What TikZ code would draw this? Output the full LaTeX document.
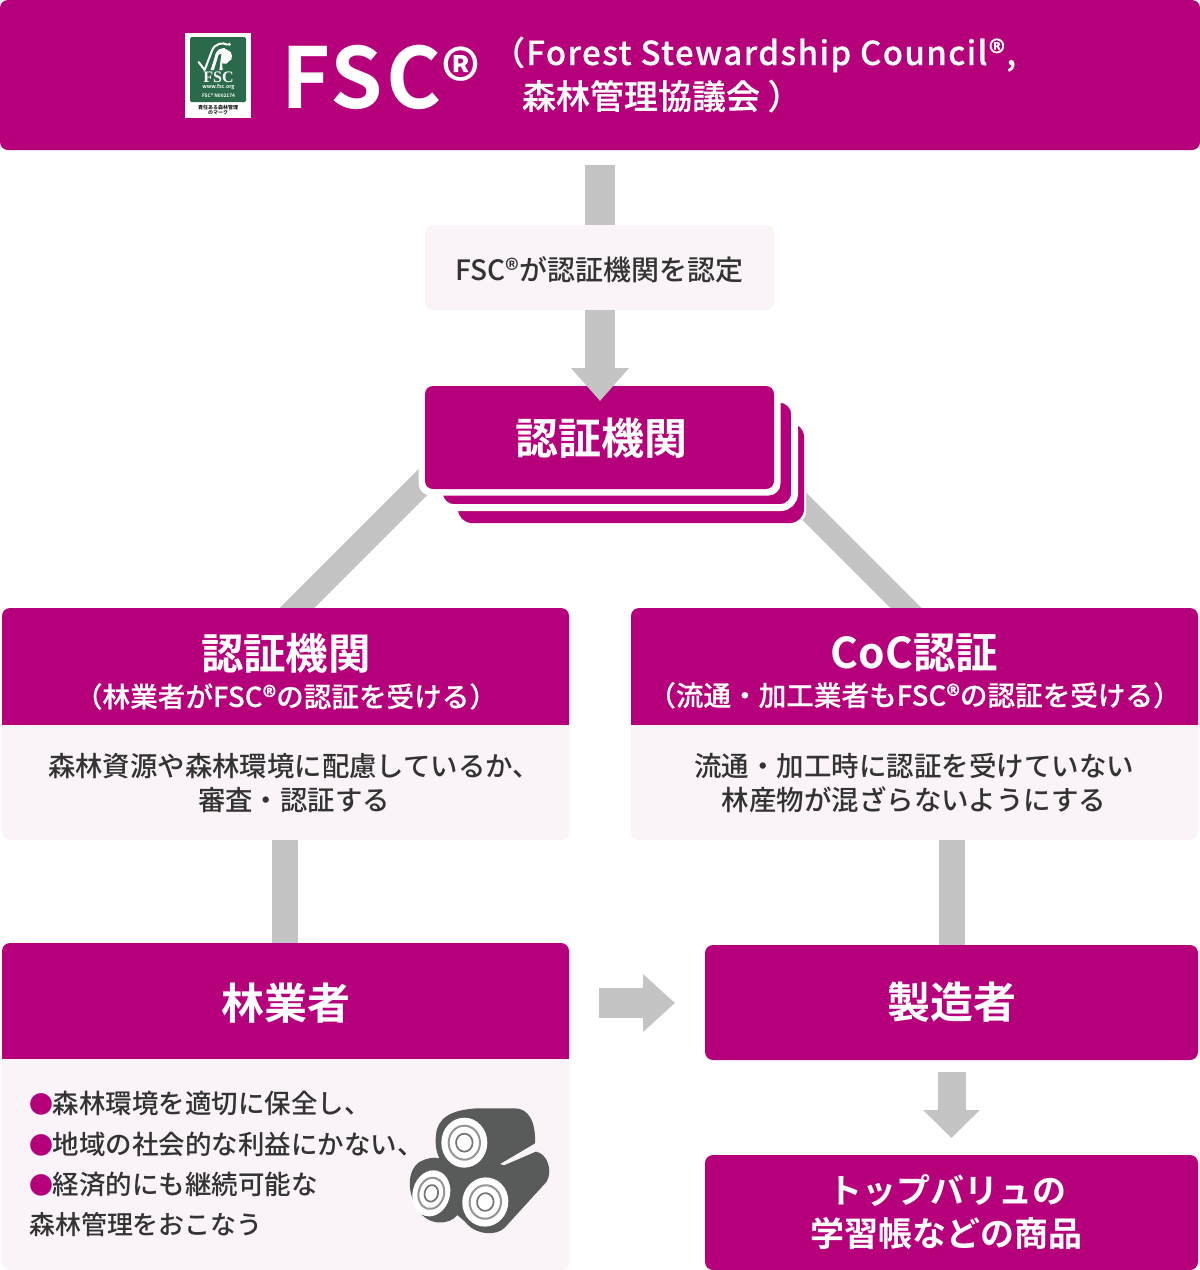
\documentclass[tikz,border=0pt]{standalone}
\usepackage{fontspec}
\setmainfont{Noto Sans CJK JP Medium}[BoldFont={Noto Sans CJK JP Bold}]
\newfontfamily\medfont{Noto Sans CJK JP Medium}
\newfontfamily\serifbold{Liberation Serif}
\usetikzlibrary{arrows.meta,backgrounds}
\definecolor{mag}{HTML}{B6007B}
\definecolor{pale}{HTML}{FAF4F9}
\definecolor{conn}{HTML}{C4C4C4}
\definecolor{logs}{HTML}{595B5A}
\definecolor{fscgreen}{HTML}{2A6A4A}
\definecolor{ink}{HTML}{333333}
\newcommand{\fs}[1]{\fontsize{#1}{#1}\selectfont}
\newcommand{\headshape}[4]{\fill[mag] (#1,#4) [rounded corners=8pt] -- (#1,#2) -- (#3,#2) [sharp corners] -- (#3,#4) -- cycle;}
\newcommand{\bodyshape}[4]{\fill[pale] (#1,#2) [rounded corners=8pt] -- (#1,#4) -- (#3,#4) [sharp corners] -- (#3,#2) -- cycle;}
\newcommand{\bl}{\makebox[24pt][l]{\textcolor{mag}{\fs{24}●}}}
\tikzset{
 txt/.style={inner sep=0pt,outer sep=0pt,align=center,text=ink},
 wtxt/.style={inner sep=0pt,outer sep=0pt,align=center,text=white,font=\bfseries},
 cardframe/.style={inner sep=0pt,outer sep=0pt,minimum width=567pt},
 solidbox/.style={fill=mag,rounded corners=8pt,text=white,font=\bfseries,inner sep=0pt,outer sep=0pt,align=center},
 palebox/.style={fill=pale,rounded corners=8pt,text=ink,inner sep=0pt,outer sep=0pt,align=center},
 bar/.style={draw=conn,line width=#1},
 bararrow/.style={draw=conn,line width=#1},
 bul/.style={inner sep=0pt,outer sep=0pt,anchor=base west,text=ink},
}
\begin{document}
\begin{tikzpicture}[x=1pt,y=-1pt]
\useasboundingbox (0,0) rectangle (1200,1270);

% ---- banner
\node[solidbox,minimum width=1200pt,minimum height=150pt] (banner) at (600,75) {};
\node[fill=white,inner sep=0pt,outer sep=0pt,minimum width=66pt,minimum height=85pt] (logobg) at (218,75.5) {};
\node[fill=fscgreen,rounded corners=1.5pt,inner sep=0pt,minimum width=56pt,minimum height=65pt] (logogreen) at (218,69.5) {};
\begin{scope}[shift={(170,20)},x=0.3333pt,y=-0.3333pt]
 \draw[white,line width=2pt,line join=round,line cap=round] (86,126) -- (104,150) -- (126,92) .. controls (134,70) and (160,66) .. (172,74);
 \fill[white] (122,150) -- (134,112) .. controls (136,88) and (162,76) .. (172,90) .. controls (190,92) and (190,124) .. (176,124) .. controls (172,134) and (160,132) .. (156,128) -- (158,150) -- cycle;
 \fill[fscgreen] (132,150) -- (142,118) .. controls (144,104) and (150,98) .. (154,102) -- (148,150) -- cycle;
 \fill[white] (178,73) circle (5);
\end{scope}
\node[inner sep=0pt,text=white,font=\serifbold\bfseries\fs{16}] (logofsc) at (218.5,77.5) {FSC};
\node[inner sep=0pt,text=white,font=\bfseries\fs{5.2}] (logoweb) at (218.5,87) {www.fsc.org};
\node[inner sep=0pt,text=white,font=\bfseries\fs{4.8}] (logoid) at (218.5,95.5) {FSC® N002174};
\node[inner sep=0pt,text=black,align=center,font=\bfseries\fs{5}] (logomark) at (218,110) {責任ある森林管理\\[0.5pt]のマーク};
\node[wtxt,anchor=base west,font=\bfseries\fs{84}\addfontfeature{LetterSpace=4}] (fsc) at (281,108) {FSC};
\node[wtxt,anchor=base west,font=\bfseries\fs{76}] (reg) at (441,108) {®};
\node[wtxt,anchor=base west,font=\medfont\fs{33}\addfontfeature{LetterSpace=4.2,FakeBold=0.4}] (en) at (492,65) {（Forest Stewardship Council®,};
\node[wtxt,anchor=base west,font=\medfont\fs{34}\addfontfeature{FakeBold=0.4}] (ja) at (522,109) {森林管理協議会 ）};

% ---- nodes
\node[palebox,minimum width=349pt,minimum height=85pt] (accr) at (599.5,267.5) {};
\node[txt,font=\fs{28}] (accrt) at (599.5,269.5) {FSC®が認証機関を認定};
\node[fill=white,rounded corners=14pt,minimum width=350pt,minimum height=104pt,inner sep=0pt] (st3w) at (631,473) {};
\node[fill=mag,rounded corners=14pt,minimum width=346pt,minimum height=100pt,inner sep=0pt] (st3) at (631,473) {};
\node[fill=mag,draw=white,line width=7pt,rounded corners=14pt,minimum width=355pt,minimum height=108pt,inner sep=0pt] (st2) at (617,453.5) {};
\node[fill=white,rounded corners=12pt,minimum width=362pt,minimum height=116pt,inner sep=0pt] (st1w) at (599.5,437.5) {};
\node[solidbox,minimum width=349pt,minimum height=103pt] (body) at (599.5,437.5) {};
\node[wtxt,font=\bfseries\fs{43}] (bodyt) at (601.5,438.5) {認証機関};

% left card
\headshape{2}{608}{569}{725}
\bodyshape{2}{725}{569}{840}
\node[cardframe,minimum height=232pt] (lcard) at (285.5,724) {};
\node[wtxt] (lh) at (286,671.5) {\fs{42.5}認証機関\\[9pt]\medfont\mdseries\fs{27.6}\addfontfeature{FakeBold=0.3}（林業者がFSC®の認証を受ける）};
\node[txt,font=\fs{27.4}] (lb) at (294,783) {森林資源や森林環境に配慮しているか、\\[7pt]審査・認証する};
% right card
\headshape{631}{608}{1198}{725}
\bodyshape{631}{725}{1198}{840}
\node[cardframe,minimum height=232pt] (rcard) at (914.5,724) {};
\node[wtxt] (rh) at (914.5,671) {\fs{42.5}CoC認証\\[9pt]\medfont\mdseries\fs{27.6}\addfontfeature{FakeBold=0.3}（流通・加工業者もFSC®の認証を受ける）};
\node[txt,font=\fs{27.5}] (rb) at (914,783) {流通・加工時に認証を受けていない\\[7pt]林産物が混ざらないようにする};
% forestry card
\headshape{2}{943}{569}{1059}
\bodyshape{2}{1059}{569}{1270}
\node[cardframe,minimum height=327pt] (fcard) at (285.5,1106.5) {};
\node[wtxt,font=\bfseries\fs{43}] (forest) at (286,1003) {林業者};
\node[bul,font=\fs{26.5}] (f1) at (29,1113) {\bl 森林環境を適切に保全し、};
\node[bul,font=\fs{26.5}] (f2) at (29,1154) {\bl 地域の社会的な利益にかない、};
\node[bul,font=\fs{26.5}] (f3) at (29,1194) {\bl 経済的にも継続可能な};
\node[bul,font=\fs{26}] (f4) at (29,1234) {森林管理をおこなう};
% maker
\node[solidbox,minimum width=493pt,minimum height=115pt,font=\bfseries\fs{43}] (maker) at (951.5,1002.5) {製造者};
\node[solidbox,minimum width=493pt,minimum height=115pt,font=\bfseries\fs{34}] (prod) at (951.5,1212.5) {トップバリュの\hspace*{8pt}\\[9pt]学習帳などの商品\hspace*{10pt}};

% ---- logs icon
\begin{scope}[shift={(400,1090)},x=0.3333pt,y=-0.3333pt]
 \fill[logs] (108,135) .. controls (112,85) and (150,60) .. (230,55) -- (345,55) .. controls (385,55) and (408,95) .. (405,160) -- (300,222) -- (312,226) -- (408,185) .. controls (440,190) and (460,240) .. (440,275) -- (315,412) .. controls (290,440) and (225,435) .. (195,395) -- (172,375) .. controls (150,405) and (85,410) .. (55,360) .. controls (20,310) and (20,240) .. (60,215) .. controls (80,205) and (100,200) .. (118,205) .. controls (108,185) and (105,160) .. (108,135) -- cycle;
 \foreach \cx/\cy/\rx/\ry/\rot in {193/158/69/75/0,94/310/56/70/-15,256/336/69/74/-10}{
  \begin{scope}[shift={(\cx,\cy)},rotate=\rot]
   \fill[white] (0,0) ellipse ({\rx*1pt/3} and {\ry*1pt/3});
   \draw[logs!65,line width=2pt] (0,0) ellipse ({\rx*0.68pt/3} and {\ry*0.68pt/3});
   \draw[logs!85,line width=1.7pt] (0,0) ellipse ({\rx*0.36pt/3} and {\ry*0.36pt/3});
  \end{scope}
 }
\end{scope}

% ---- connectors
\coordinate (a1s) at (600,165);
\draw[bar=30pt] (a1s) -- (accr.north -| a1s);
\draw[bararrow=30pt,-{Triangle[length=33pt,width=56pt]}] (accr.south -| a1s) -- (600,401);
\coordinate (lc) at (285,840);
\draw[bar=26pt] (lcard.south -| lc) -- (fcard.north -| lc);
\coordinate (rc) at (952,840);
\draw[bar=26pt] (rc) -- (maker.north -| rc);
\coordinate (fr) at (599,1003);
\coordinate (mk) at (675,1003);
\draw[bararrow=30pt,-{Triangle[length=32pt,width=56pt]}] (fr) -- (mk);
\coordinate (ms) at (951.5,1072);
\draw[bararrow=28pt,-{Triangle[length=28pt,width=55pt]}] (ms) -- (951.5,1138);
% diagonals, behind the cards
\coordinate (dl1) at (468,437);
\coordinate (dl2) at (285,620);
\coordinate (dr1) at (735,437);
\coordinate (dr2) at (918,620);
\begin{scope}[on background layer]
 \fill[white] (0,0) rectangle (1200,1270);
 \draw[bar=24.7pt] (dl1) -- (dl2);
 \draw[bar=22pt] (dr1) -- (dr2);
\end{scope}
\end{tikzpicture}
\end{document}
